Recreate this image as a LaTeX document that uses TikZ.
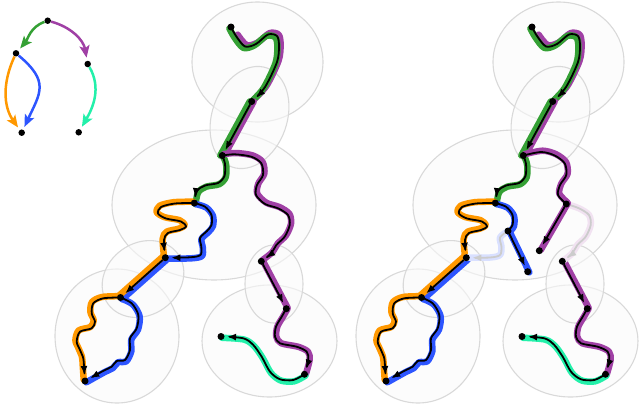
\documentclass[tikz,border=0pt]{standalone}
\usepackage{tikz}
\usetikzlibrary{arrows.meta, positioning}
\definecolor{cgreen}{RGB}{52,160,52}
\definecolor{cpurple}{RGB}{160,64,165}
\definecolor{corange}{RGB}{255,152,0}
\definecolor{cblue}{RGB}{45,85,255}
\definecolor{cmint}{RGB}{35,240,170}
\pgfdeclarelayer{blobs}
\pgfdeclarelayer{glow}
\pgfsetlayers{blobs,glow,main}

\begin{document}
\begin{tikzpicture}[x=1pt, y=-1pt,
  dot/.style={circle, fill=black, inner sep=0pt, minimum size=7pt},
  ldot/.style={circle, fill=black, inner sep=0pt, minimum size=6.5pt},
  blob/.style={draw=black!15, line width=1.1pt, fill=black!2, fill opacity=0.6},
  trace/.style={line width=1.8pt, line cap=round, line join=round},
  walk/.style={trace, -{Latex[length=9pt,width=7pt]}, shorten >=6pt},
  ghost/.style={walk, draw=black!20},
  glowline/.style={line width=6.5pt, line cap=round, line join=round},
  key/.style={line width=2.5pt, -{Stealth[length=12pt,width=10pt,inset=2.5pt]}, shorten >=3pt}]
\useasboundingbox (0,0) rectangle (640,410);

% legend tree
\node[ldot] (r) at (47.7,20.7) {};
\node[ldot] (u) at (16,53.3) {};
\node[ldot] (v) at (87.7,64) {};
\node[ldot] (w) at (21.7,132.7) {};
\node[ldot] (z) at (78.7,132.3) {};
\draw[key, cgreen] (r) to[out=200, in=50] (u);
\draw[key, cpurple] (r) to[out=-15, in=100] (v);
\draw[key, corange] (u) to[out=-115, in=125] (w);
\draw[key, cblue] (u) to[out=-40, in=65, looseness=1.4] (w);
\draw[key, cmint] (v) to[out=-60, in=60] (z);

% walks on the clusters, left and right copy
\foreach \dx/\s in {0/a, 301/b} {
\begin{scope}[xshift=\dx pt]
  \begin{pgfonlayer}{blobs}
    \draw[blob] (214,205) ellipse [x radius=102pt, y radius=75pt];
    \draw[blob] (257.5,62) ellipse [x radius=65.5pt, y radius=60pt];
    \draw[blob] (249.5,117.5) ellipse [x radius=37.5pt, y radius=52.5pt, rotate=-19.5];
    \draw[blob] (117,336) ellipse [x radius=62pt, y radius=67pt];
    \draw[blob] (143,279) ellipse [x radius=43pt, y radius=36pt, rotate=35];
    \draw[blob] (269.5,341) ellipse [x radius=67.5pt, y radius=56pt];
    \draw[blob] (274,284) ellipse [x radius=29pt, y radius=39pt];
  \end{pgfonlayer}
  \node[dot] (n1\s) at (231,27) {};
  \node[dot] (n2\s) at (251.7,101.5) {};
  \node[dot] (n3\s) at (222.3,155.5) {};
  \node[dot] (n4\s) at (194.3,203) {};
  \node[dot] (n5\s) at (165.3,257.7) {};
  \node[dot] (n6\s) at (120.5,297.5) {};
  \node[dot] (n7\s) at (85,381) {};
  \node[dot] (n8\s) at (261.3,261.3) {};
  \node[dot] (n9\s) at (286.3,308.7) {};
  \node[dot] (n10\s) at (304.5,374.3) {};
  \node[dot] (n11\s) at (221,336.5) {};
  \begin{pgfonlayer}{glow}
    \draw[glowline, cpurple, transform canvas={xshift=1.6pt, yshift=1.4pt}] plot[smooth] coordinates {(236,36) (245,46.5) (256,44) (268,34.5) (277,36) (279,46) (277,62) (265,87) (n2\s)};
    \draw[glowline, cgreen, transform canvas={xshift=-1.6pt, yshift=-1.4pt}] plot[smooth] coordinates {(n1\s) (236,36) (245,46.5) (256,44) (268,34.5) (277,36) (279,46) (277,62) (265,87) (n2\s)};
    \draw[glowline, cpurple, transform canvas={xshift=2pt}] (n2\s.center) -- (n3\s.center);
    \draw[glowline, cgreen, transform canvas={xshift=-2pt}] (n2\s.center) -- (n3\s.center);
    \draw[glowline, cgreen, transform canvas={xshift=1.2pt, yshift=-1.2pt}] plot[smooth] coordinates {(n3\s) (225,164) (224.5,176) (218,183) (205,185.5) (197,191) (n4\s)};
    \draw[glowline, corange, transform canvas={xshift=-1.3pt, yshift=1.3pt}] plot[smooth] coordinates {(n4\s) (175,203.5) (161,207) (158,213.5) (166,218.5) (181,221.5) (186,226.5) (180,230) (168,233) (164,240) (n5\s)};
    \draw[glowline, cblue, transform canvas={xshift=1.7pt, yshift=-1.7pt}] (n5\s.center) -- (n6\s.center);
    \draw[glowline, corange, transform canvas={xshift=-1.7pt, yshift=1.7pt}] (n5\s.center) -- (n6\s.center);
    \draw[glowline, corange, transform canvas={xshift=-1.3pt, yshift=1.3pt}] plot[smooth] coordinates {(n6\s) (103.3,298.3) (93.3,303.3) (91.7,313.3) (95,321.7) (91.7,328.3) (80,331.7) (76.7,341.7) (80,350) (83.3,358.3) (84,366.7) (n7\s)};
    \draw[glowline, cblue, transform canvas={xshift=1.3pt, yshift=-1.3pt}] plot[smooth] coordinates {(n6\s) (131.7,303.3) (138.3,315) (136.7,328.3) (130,338.3) (130,350) (125,360) (116.7,361) (111.7,366.7) (103,371) (n7\s)};
    \draw[glowline, cpurple, transform canvas={xshift=1.3pt, yshift=1pt}] (n8\s.center) -- (n9\s.center);
    \draw[glowline, cpurple, transform canvas={xshift=1.3pt}] plot[smooth] coordinates {(n9\s) (281.7,316.7) (276,326.7) (275,336.7) (280,343.3) (296.7,346.7) (306.7,351.7) (308.3,360) (n10\s)};
    \draw[glowline, cmint, transform canvas={xshift=1pt, yshift=-1.3pt}] plot[smooth] coordinates {(n10\s) (293.3,380) (280,379.3) (270,371.7) (261.7,356.7) (253.3,345) (243.3,338.3) (n11\s)};
  \end{pgfonlayer}
  \draw[walk] plot[smooth] coordinates {(n1\s) (236,36) (245,46.5) (256,44) (268,34.5) (277,36) (279,46) (277,62) (265,87) (n2\s)};
  \draw[walk, shorten >=2.5pt] (n2\s) -- (n3\s);
  \draw[walk] plot[smooth] coordinates {(n3\s) (225,164) (224.5,176) (218,183) (205,185.5) (197,191) (n4\s)};
  \draw[walk] plot[smooth] coordinates {(n4\s) (175,203.5) (161,207) (158,213.5) (166,218.5) (181,221.5) (186,226.5) (180,230) (168,233) (164,240) (n5\s)};
  \draw[walk, shorten >=2.5pt] (n5\s) -- (n6\s);
  \draw[walk] plot[smooth] coordinates {(n6\s) (103.3,298.3) (93.3,303.3) (91.7,313.3) (95,321.7) (91.7,328.3) (80,331.7) (76.7,341.7) (80,350) (83.3,358.3) (84,366.7) (n7\s)};
  \draw[walk] plot[smooth] coordinates {(n6\s) (131.7,303.3) (138.3,315) (136.7,328.3) (130,338.3) (130,350) (125,360) (116.7,361) (111.7,366.7) (103,371) (n7\s)};
  \draw[walk, shorten >=2.5pt] (n8\s) -- (n9\s);
  \draw[walk] plot[smooth] coordinates {(n9\s) (281.7,316.7) (276,326.7) (275,336.7) (280,343.3) (296.7,346.7) (306.7,351.7) (308.3,360) (n10\s)};
  \draw[walk] plot[smooth] coordinates {(n10\s) (293.3,380) (280,379.3) (270,371.7) (261.7,356.7) (253.3,345) (243.3,338.3) (n11\s)};
\end{scope}
}

% left copy: full purple and blue walks
\begin{pgfonlayer}{glow}
  \draw[glowline, cpurple, transform canvas={xshift=1.3pt, yshift=1.3pt}] plot[smooth] coordinates {(n3a) (234.7,154.3) (251.3,156.7) (261.3,163.3) (263,175) (257,185) (256,195) (265,204) (278,208.3) (288,215) (289.7,225) (284.7,236.7) (276.3,245) (271.3,253.3) (n8a)};
  \draw[glowline, cblue, transform canvas={xshift=1.5pt, yshift=-1pt}] plot[smooth] coordinates {(n4a) (205,206.7) (211.5,215) (211.5,225) (207,231) (200,238) (201.3,246.7) (200.5,255) (190,257.3) (n5a)};
\end{pgfonlayer}
\draw[walk] plot[smooth] coordinates {(n3a) (234.7,154.3) (251.3,156.7) (261.3,163.3) (263,175) (257,185) (256,195) (265,204) (278,208.3) (288,215) (289.7,225) (284.7,236.7) (276.3,245) (271.3,253.3) (n8a)};
\draw[walk] plot[smooth] coordinates {(n4a) (205,206.7) (211.5,215) (211.5,225) (207,231) (200,238) (201.3,246.7) (200.5,255) (190,257.3) (n5a)};

% right copy: cut walks, faded rest
\node[dot] (p1) at (566.3,204) {};
\node[dot] (p2) at (539.3,250.7) {};
\node[dot] (m1) at (508,231) {};
\node[dot] (m2) at (527.7,271.7) {};
\begin{pgfonlayer}{glow}
  \draw[glowline, cpurple!15] plot[smooth] coordinates {(p1) (579,208.3) (589,215) (590.7,225) (585.7,236.7) (577.3,245) (572.3,253.3) (n8b)};
  \draw[glowline, cblue!18] plot[smooth] coordinates {(m1) (500,237.5) (501.5,247) (500,255) (490,257.5) (n5b)};
  \draw[ghost] plot[smooth] coordinates {(p1) (579,208.3) (589,215) (590.7,225) (585.7,236.7) (577.3,245) (572.3,253.3) (n8b)};
  \draw[ghost] plot[smooth] coordinates {(m1) (500,237.5) (501.5,247) (500,255) (490,257.5) (n5b)};
  \draw[glowline, cpurple, transform canvas={xshift=1.3pt, yshift=1.3pt}] plot[smooth] coordinates {(n3b) (541.3,152) (554.7,155.5) (564.7,163.3) (566.3,175) (560,185) (558,195) (p1)};
  \draw[glowline, cpurple, transform canvas={xshift=1.5pt, yshift=0.8pt}] (p1.center) -- (p2.center);
  \draw[glowline, cblue, transform canvas={xshift=1.5pt, yshift=-1pt}] plot[smooth] coordinates {(n4b) (506,206.7) (512.5,215) (512.5,225) (m1)};
  \draw[glowline, cblue, transform canvas={xshift=1.6pt, yshift=-0.6pt}] (m1.center) -- (m2.center);
\end{pgfonlayer}
\draw[trace] plot[smooth] coordinates {(n3b) (541.3,152) (554.7,155.5) (564.7,163.3) (566.3,175) (560,185) (558,195) (p1)};
\draw[walk, shorten >=2.5pt] (p1) -- (p2);
\draw[trace] plot[smooth] coordinates {(n4b) (506,206.7) (512.5,215) (512.5,225) (m1)};
\draw[walk, shorten >=2.5pt] (m1) -- (m2);
\end{tikzpicture}
\end{document}
